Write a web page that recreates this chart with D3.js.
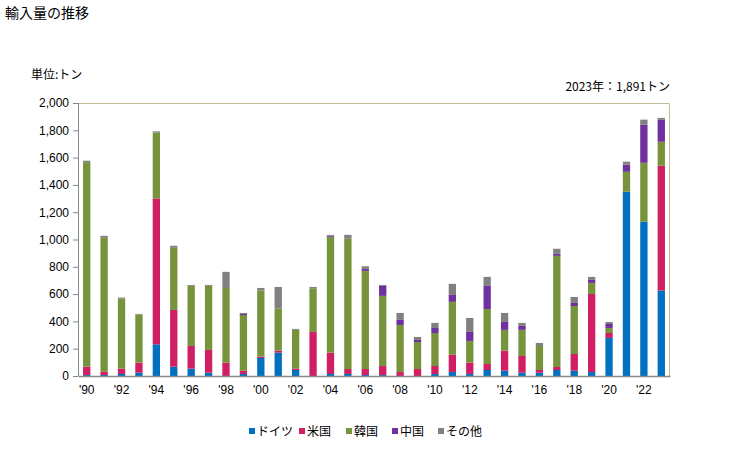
<!DOCTYPE html>
<html>
<head>
<meta charset="utf-8">
<script src="https://cdn.jsdelivr.net/npm/d3@7"></script>
<style>
  body { margin: 0; background: #fff; }
  svg { font-family: "Noto Sans CJK JP", "Noto Sans", sans-serif; }
</style>
</head>
<body>
<div id="fig"></div>
<script>
let years = d3.range(1990, 2024);
let seriesNames = ['ドイツ', '米国', '韓国', '中国', 'その他'];
let colors = ['#0070C0', '#D01F62', '#77933C', '#7030A0', '#808080'];

let germany = [7, 7, 15, 24, 232, 68, 54, 24, 0, 15, 132, 171, 44, 0, 15, 15, 7, 7, 0, 0, 15, 29, 15, 44, 39, 24, 24, 44, 39, 29, 279, 1350, 1130, 626];
let usa     = [61, 25, 39, 74, 1069, 416, 166, 167, 98, 24, 10, 15, 10, 323, 156, 36, 44, 66, 29, 51, 58, 127, 83, 44, 147, 123, 20, 22, 122, 572, 36, 0, 0, 914];
let korea   = [1499, 980, 513, 352, 484, 455, 440, 469, 547, 408, 484, 308, 284, 320, 849, 954, 719, 514, 345, 198, 242, 387, 159, 403, 152, 191, 176, 814, 352, 81, 37, 146, 432, 176];
let china   = [0, 0, 0, 0, 0, 0, 0, 0, 0, 8, 0, 0, 0, 0, 9, 0, 15, 73, 37, 15, 37, 51, 66, 169, 58, 29, 0, 15, 22, 22, 29, 52, 279, 161];
let others  = [10, 15, 8, 5, 7, 15, 7, 7, 118, 7, 19, 158, 7, 9, 5, 29, 19, 7, 51, 22, 37, 81, 102, 66, 66, 22, 22, 37, 44, 22, 15, 22, 37, 14];

let yTicks = d3.range(0, 2001, 200);
let xTickYears = d3.range(1990, 2024, 2);

let width = 729, height = 450;
let margin = {top: 103, right: 59, bottom: 74, left: 78};
let plotW = width - margin.left - margin.right;
let plotH = height - margin.top - margin.bottom;

let svg = d3.select('#fig').append('svg')
    .attr('width', width)
    .attr('height', height);

svg.append('text').attr('x', 5).attr('y', 18)
    .attr('font-size', 14).text('輸入量の推移');
svg.append('text').attr('x', 31).attr('y', 79)
    .attr('font-size', 12).text('単位:トン');
svg.append('text').attr('x', 670).attr('y', 91)
    .attr('text-anchor', 'end').attr('font-size', 12)
    .text('2023年：1,891トン');

let rows = years.map((yr, i) => ({
    year: yr,
    'ドイツ': germany[i], '米国': usa[i], '韓国': korea[i], '中国': china[i], 'その他': others[i]
}));
let stacked = d3.stack().keys(seriesNames)(rows);

let x = d3.scaleBand()
    .domain(years)
    .range([0, plotW])
    .paddingInner(0.58)
    .paddingOuter(0.29);

let y = d3.scaleLinear()
    .domain([0, 2000])
    .range([plotH, 0]);

let g = svg.append('g')
    .attr('transform', `translate(${margin.left},${margin.top})`);

// frame: top and right in tan
g.append('path')
    .attr('d', `M0,0.5H${plotW - 0.5}V${plotH}`)
    .attr('fill', 'none')
    .attr('stroke', '#C4BD97');

g.selectAll('g.series')
    .data(stacked)
    .join('g')
      .attr('class', 'series')
      .attr('fill', (d, i) => colors[i])
    .selectAll('rect')
    .data(d => d)
    .join('rect')
      .attr('x', d => x(d.data.year))
      .attr('y', d => y(d[1]))
      .attr('width', x.bandwidth())
      .attr('height', d => y(d[0]) - y(d[1]));

let yAxis = g.append('g')
    .call(d3.axisLeft(y).tickValues(yTicks).tickSize(5).tickPadding(4)
        .tickFormat(d3.format(',')));
yAxis.select('.domain').attr('stroke', '#868686').attr('d', `M0.5,0V${plotH}`);
yAxis.selectAll('.tick line').attr('stroke', '#868686');
yAxis.selectAll('text').attr('font-size', 12).attr('fill', '#000');

let xAxis = g.append('g')
    .attr('transform', `translate(0,${plotH})`)
    .call(d3.axisBottom(x).tickValues(xTickYears).tickSize(0).tickPadding(9)
        .tickFormat(d => "'" + String(d).slice(2)));
xAxis.select('.domain').attr('stroke', '#868686').attr('stroke-width', 1.5);
xAxis.selectAll('text').attr('font-size', 12).attr('fill', '#000');

// legend
let legendX = [249, 299, 346, 392, 438];
let legend = svg.append('g')
    .selectAll('g')
    .data(seriesNames)
    .join('g')
      .attr('transform', (d, i) => `translate(${legendX[i]},428)`);
legend.append('rect')
    .attr('width', 6).attr('height', 6)
    .attr('fill', (d, i) => colors[i]);
legend.append('text')
    .attr('x', 8).attr('y', 8)
    .attr('font-size', 12)
    .text(d => d);
</script>
</body>
</html>
